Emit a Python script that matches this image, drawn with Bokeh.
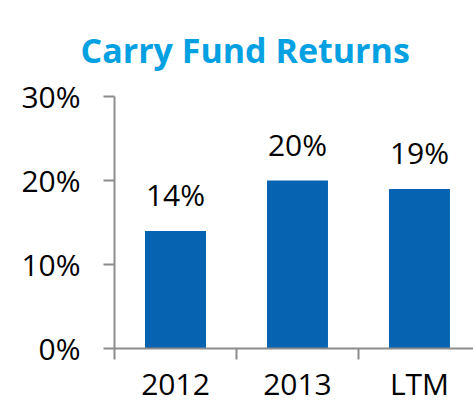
from bokeh.plotting import figure
from bokeh.models import Range1d, FixedTicker, ColumnDataSource, NumeralTickFormatter
from bokeh.core.properties import value
from bokeh.embed import file_html
from bokeh.resources import INLINE

categories = ["2012", "2013", "LTM"]
returns = [0.14, 0.20, 0.19]
labels = ["14%", "20%", "19%"]
y_ticks = [0.0, 0.1, 0.2, 0.3]
title_text = "Carry Fund Returns"

xs = [i + 0.5 for i in range(len(categories))]
src = ColumnDataSource(dict(x=xs, top=returns, label=labels))

W, H = 473, 406
p = figure(width=W, height=H, output_backend="svg", toolbar_location=None,
           x_range=Range1d(0, 2.943), y_range=Range1d(0, 0.30),
           min_border_left=114, min_border_right=0, min_border_top=96,
           min_border_bottom=57, title=title_text)
p.outline_line_color = None
p.background_fill_color = "white"
p.border_fill_color = "white"
p.xgrid.visible = False
p.ygrid.visible = False

p.title.align = "left"
p.title.offset = -34
p.title.standoff = 48
p.title.text_font = "Open Sans"
p.title.text_font_style = "bold"
p.title.text_font_size = "34px"
p.title.text_color = "#03A0E2"

p.vbar(x="x", top="top", width=0.5, source=src, color="#0563B1", line_color=None)
p.text(x="x", y="top", text="label", source=src, text_align="center",
       text_baseline="bottom", y_offset=-16, text_font=value("Open Sans"),
       text_font_size="30px", text_color="#000000")

axc = "#8C8C8C"
p.xaxis.ticker = FixedTicker(ticks=xs, minor_ticks=[0, 1, 2, 3])
p.xaxis.major_label_overrides = {x: c for x, c in zip(xs, categories)}
p.xaxis.major_tick_line_color = None
p.xaxis.major_tick_out = 0
p.xaxis.major_tick_in = 0
p.xaxis.minor_tick_out = 11
p.xaxis.minor_tick_in = 0
p.xaxis.minor_tick_line_color = axc
p.xaxis.minor_tick_line_width = 2
p.xaxis.axis_line_color = axc
p.xaxis.axis_line_width = 2
p.xaxis.major_label_text_font = "Open Sans"
p.xaxis.major_label_text_font_size = "30px"
p.xaxis.major_label_text_color = "#000000"
p.xaxis.major_label_standoff = 3

p.yaxis.ticker = FixedTicker(ticks=y_ticks)
p.yaxis.formatter = NumeralTickFormatter(format="0%")
p.yaxis.minor_tick_line_color = None
p.yaxis.major_tick_out = 11
p.yaxis.major_tick_in = 0
p.yaxis.major_tick_line_color = axc
p.yaxis.major_tick_line_width = 2
p.yaxis.axis_line_color = axc
p.yaxis.axis_line_width = 2
p.yaxis.major_label_text_font = "Open Sans"
p.yaxis.major_label_text_font_size = "30px"
p.yaxis.major_label_text_color = "#000000"
p.yaxis.major_label_standoff = 23

open("out.html", "w").write(file_html(p, INLINE))
